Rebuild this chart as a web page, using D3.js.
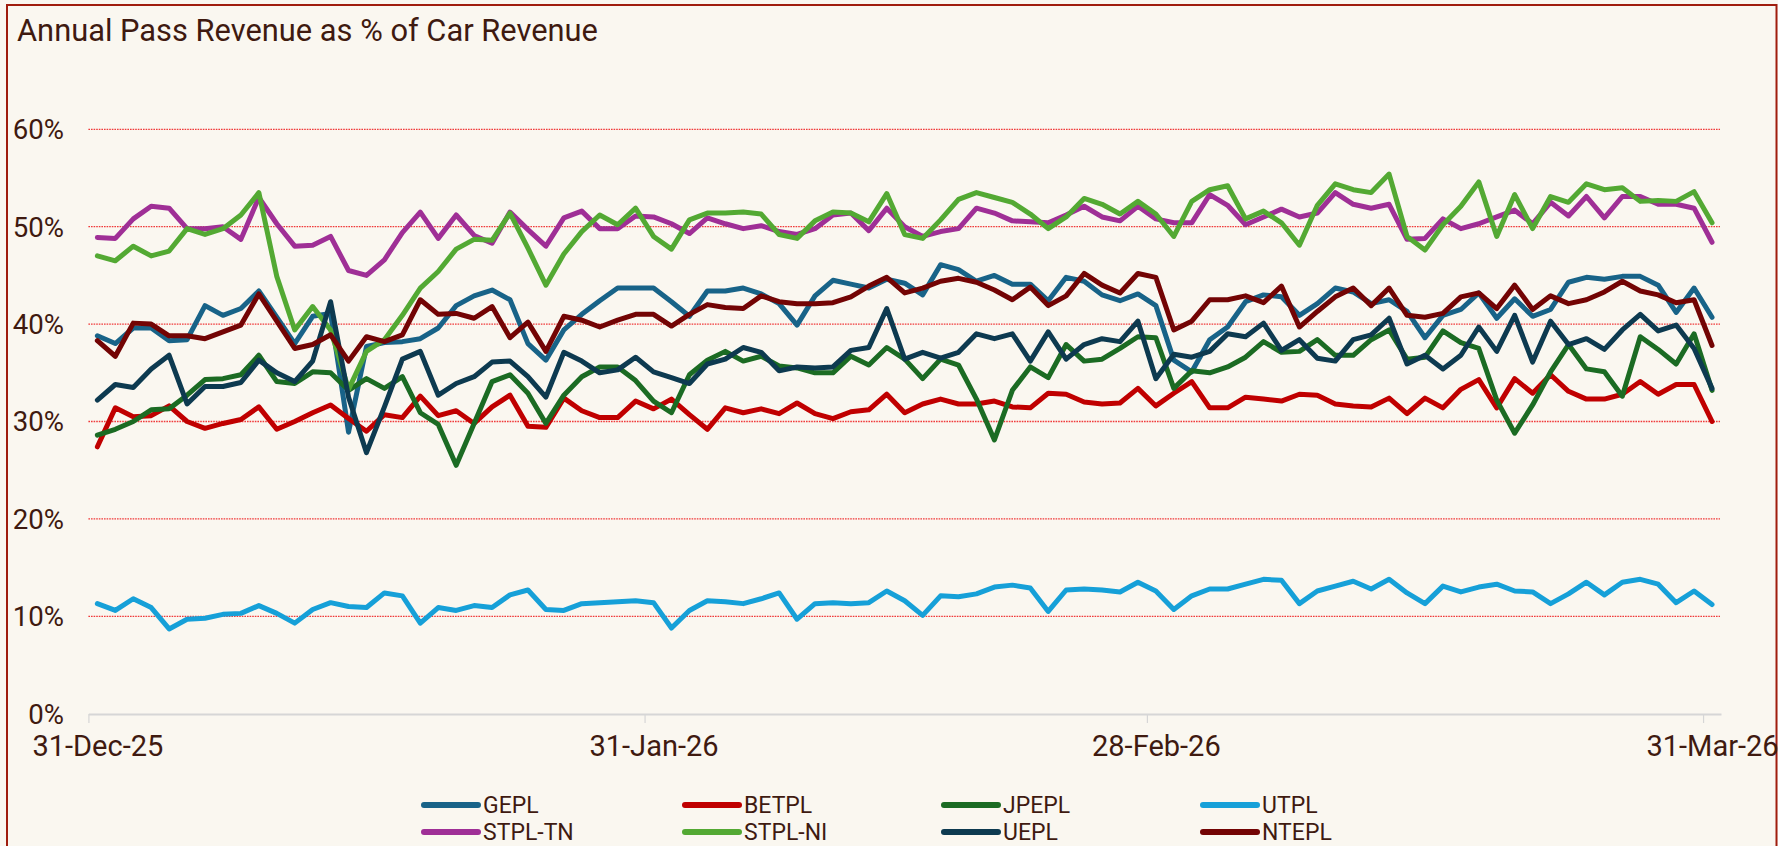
<!DOCTYPE html>
<html><head><meta charset="utf-8">
<script src="https://cdn.jsdelivr.net/npm/d3@7"></script>
<style>html,body{margin:0;padding:0;background:#faf7f0;overflow:hidden}</style>
</head><body><svg id="c" width="1778" height="846"></svg>
<script>
// ---------- data ----------
const titleText = "Annual Pass Revenue as % of Car Revenue";
const seriesNames = ["GEPL","BETPL","JPEPL","UTPL","STPL-TN","STPL-NI","UEPL","NTEPL"];
const seriesColors = ["#186388","#c00000","#1b6b23","#16a0d8","#9f2f96","#53a933","#0d3a50","#730404"];
const startDay = "2025-12-31";
const endDayExclusive = "2026-04-01";
const tickDates = ["2025-12-31","2026-01-31","2026-02-28","2026-03-31"];
const tickLabels = ["31-Dec-25","31-Jan-26","28-Feb-26","31-Mar-26"];
const yTickValues = [0,10,20,30,40,50,60];

const GEPL = [
38.8,38.0,39.6,39.6,38.3,38.4,41.9,40.9,41.6,43.4,
40.7,38.0,40.8,41.1,28.9,37.7,38.1,38.2,38.5,39.6,
41.9,42.9,43.5,42.5,38.0,36.3,39.4,41.0,42.4,43.7,
43.7,43.7,42.3,40.8,43.4,43.4,43.7,43.1,42.1,39.9,
42.9,44.5,44.1,43.7,44.6,44.2,43.0,46.1,45.6,44.4,
45.0,44.1,44.1,42.4,44.8,44.4,43.0,42.4,43.1,41.9,
36.3,35.1,38.4,39.7,42.3,43.0,42.8,40.9,42.1,43.7,
43.3,42.1,42.5,41.3,38.6,40.9,41.5,43.2,40.6,42.6,
40.8,41.5,44.3,44.8,44.6,44.9,44.9,44.0,41.2,43.7,
40.7];
const BETPL = [
27.4,31.4,30.5,30.6,31.6,30.0,29.3,29.8,30.2,31.5,
29.2,30.0,30.9,31.7,30.3,29.0,30.7,30.4,32.6,30.6,
31.1,29.8,31.5,32.7,29.5,29.4,32.4,31.1,30.4,30.4,
32.1,31.3,32.3,30.7,29.2,31.4,30.9,31.3,30.8,31.9,
30.8,30.3,31.0,31.2,32.8,30.9,31.8,32.3,31.8,31.8,
32.1,31.5,31.4,32.9,32.8,32.0,31.8,31.9,33.4,31.6,
32.9,34.1,31.4,31.4,32.5,32.3,32.1,32.8,32.7,31.8,
31.6,31.5,32.4,30.8,32.4,31.4,33.3,34.3,31.4,34.4,
32.9,34.8,33.1,32.3,32.3,32.8,34.1,32.8,33.8,33.8,
30.0];
const JPEPL = [
28.6,29.2,30.0,31.2,31.3,32.7,34.3,34.4,34.8,36.8,
34.1,33.9,35.1,35.0,33.2,34.4,33.4,34.6,30.9,29.7,
25.5,29.8,34.1,34.8,32.9,29.8,32.7,34.6,35.6,35.6,
34.2,32.1,30.9,34.8,36.3,37.2,36.2,36.7,35.7,35.5,
35.0,35.0,36.7,35.8,37.6,36.4,34.4,36.4,35.8,32.3,
28.1,33.2,35.6,34.5,37.9,36.2,36.4,37.5,38.7,38.6,
33.4,35.2,35.0,35.6,36.6,38.2,37.1,37.2,38.4,36.8,
36.8,38.4,39.4,36.4,36.6,39.3,38.1,37.5,32.2,28.8,
31.7,35.1,37.9,35.4,35.1,32.6,38.7,37.4,35.9,39.0,
33.2];
const UTPL = [
11.3,10.6,11.8,10.9,8.7,9.7,9.8,10.2,10.3,11.1,
10.3,9.3,10.7,11.4,11.0,10.9,12.4,12.1,9.3,10.9,
10.6,11.1,10.9,12.2,12.7,10.7,10.6,11.3,11.4,11.5,
11.6,11.4,8.8,10.6,11.6,11.5,11.3,11.8,12.4,9.7,
11.3,11.4,11.3,11.4,12.6,11.6,10.1,12.1,12.0,12.3,
13.0,13.2,12.9,10.5,12.7,12.8,12.7,12.5,13.5,12.6,
10.7,12.1,12.8,12.8,13.3,13.8,13.7,11.3,12.6,13.1,
13.6,12.8,13.8,12.4,11.3,13.1,12.5,13.0,13.3,12.6,
12.5,11.3,12.3,13.5,12.2,13.5,13.8,13.3,11.4,12.6,
11.2];
const STPL_TN = [
48.9,48.8,50.8,52.1,51.9,49.8,49.8,50.0,48.7,53.0,
50.3,48.0,48.1,49.0,45.5,45.0,46.6,49.4,51.5,48.8,
51.2,49.1,48.3,51.5,49.7,48.0,50.9,51.6,49.8,49.8,
51.1,51.0,50.3,49.3,50.9,50.3,49.8,50.1,49.5,49.2,
49.8,51.2,51.4,49.6,51.9,50.0,49.0,49.5,49.8,51.9,
51.4,50.6,50.5,50.4,51.2,52.1,51.0,50.6,52.1,50.8,
50.4,50.4,53.3,52.2,50.2,51.0,51.8,51.0,51.4,53.5,
52.3,51.9,52.3,48.7,48.8,50.8,49.8,50.3,51.0,51.7,
50.3,52.5,51.1,53.1,50.9,53.1,53.1,52.3,52.3,51.9,
48.4];
const STPL_NI = [
47.0,46.5,48.0,47.0,47.5,49.8,49.2,49.8,51.2,53.5,
44.9,39.4,41.8,39.4,33.3,37.2,38.4,40.9,43.7,45.4,
47.7,48.7,48.6,51.4,47.8,44.0,47.2,49.5,51.2,50.2,
51.9,49.0,47.7,50.7,51.4,51.4,51.5,51.3,49.2,48.8,
50.6,51.5,51.4,50.5,53.4,49.2,48.8,50.7,52.8,53.5,
53.0,52.5,51.3,49.8,51.0,52.9,52.3,51.3,52.6,51.3,
49.0,52.6,53.8,54.2,50.8,51.6,50.4,48.1,52.2,54.4,
53.8,53.5,55.4,49.0,47.6,50.2,52.1,54.6,49.0,53.3,
49.8,53.1,52.5,54.4,53.8,54.0,52.6,52.7,52.6,53.6,
50.4];
const UEPL = [
32.2,33.8,33.5,35.4,36.8,31.8,33.6,33.6,34.0,36.3,
35.0,34.1,36.2,42.3,32.5,26.8,31.5,36.4,37.2,32.7,
33.9,34.6,36.1,36.2,34.6,32.5,37.1,36.2,35.0,35.3,
36.6,35.1,34.5,33.9,35.9,36.4,37.6,37.1,35.2,35.6,
35.5,35.6,37.3,37.6,41.6,36.4,37.1,36.5,37.1,39.0,
38.5,39.0,36.2,39.2,36.4,37.9,38.5,38.2,40.3,34.4,
36.9,36.6,37.2,39.0,38.7,40.1,37.3,38.4,36.5,36.2,
38.4,38.9,40.6,35.9,36.8,35.4,36.8,39.7,37.2,40.9,
36.1,40.3,37.9,38.5,37.4,39.4,41.0,39.3,39.9,37.5,
33.4];
const NTEPL = [
38.3,36.7,40.1,40.0,38.8,38.8,38.5,39.2,39.9,43.1,
40.3,37.5,37.9,38.9,36.2,38.7,38.2,38.9,42.5,41.0,
41.1,40.6,41.8,38.6,40.2,37.2,40.8,40.4,39.7,40.4,
41.0,41.0,39.8,41.0,42.0,41.7,41.6,42.9,42.3,42.1,
42.1,42.2,42.8,43.9,44.8,43.2,43.7,44.4,44.7,44.3,
43.5,42.5,43.8,41.9,42.9,45.2,44.0,43.2,45.2,44.8,
39.4,40.3,42.5,42.5,42.9,42.2,43.9,39.7,41.3,42.8,
43.7,41.9,43.7,40.9,40.7,41.1,42.8,43.2,41.6,44.0,
41.5,42.9,42.1,42.5,43.3,44.4,43.4,43.0,42.2,42.5,
37.8];
const seriesValues = [GEPL,BETPL,JPEPL,UTPL,STPL_TN,STPL_NI,UEPL,NTEPL];

// ---------- drawing ----------
const W = 1778, H = 846;
const TEXT = "#3f1a10";
const FONT = "Roboto, 'Liberation Sans', Arial, sans-serif";
const parse = d3.utcParse("%Y-%m-%d");
const dates = d3.utcDay.range(parse(startDay), parse(endDayExclusive));

const svg = d3.select("#c").attr("font-family", FONT);
svg.append("rect").attr("width", W).attr("height", H).attr("fill", "#faf7f0");
svg.append("rect").attr("x", 7).attr("y", 5).attr("width", 1769.5).attr("height", 900)
  .attr("fill", "none").attr("stroke", "#a01d0e").attr("stroke-width", 2);

const x = d3.scaleUtc().domain([parse(startDay), parse(endDayExclusive)]).range([88.4, 1721]);
const y = d3.scaleLinear().domain([0, 60]).range([713.7, 129.3]);
const mid = d => x(d3.utcHour.offset(d, 12));
const halfDay = mid(dates[0]) - x(dates[0]);

function fitFont(sel, target) {
  const w = sel.node().getComputedTextLength();
  const fs = parseFloat(sel.attr("font-size"));
  return fs * target / w;
}

// title
const title = svg.append("text").attr("x", 17).attr("y", 41).attr("fill", TEXT)
  .attr("font-size", 30).text(titleText);
title.attr("font-size", fitFont(title, 581));

// gridlines
svg.append("g").selectAll("line").data(yTickValues.filter(v => v > 0)).join("line")
  .attr("x1", 88.4).attr("x2", 1720).attr("y1", d => y(d)).attr("y2", d => y(d))
  .attr("stroke", "#f03a3a").attr("stroke-width", 1.3).attr("stroke-dasharray", "1.6,1");

// y labels
const yl = svg.append("g").selectAll("text").data(yTickValues).join("text")
  .attr("x", 64).attr("y", d => y(d)).attr("dy", "0.36em").attr("text-anchor", "end")
  .attr("fill", TEXT).attr("font-size", 26).text(d => d + "%");
const yfs = fitFont(yl.filter(d => d === 60), 51.3);
yl.attr("font-size", yfs);

// x axis
const xAxis = d3.axisBottom(x).tickValues(tickDates.map(parse)).tickSize(9).tickSizeOuter(0)
  .tickFormat((d, i) => tickLabels[i]);
const gx = svg.append("g").attr("transform", "translate(0,714)").call(xAxis);
gx.select(".domain").attr("stroke", "#d6d6d6").attr("stroke-width", 2.2);
gx.selectAll(".tick line").attr("stroke", "#d6d6d6").attr("stroke-width", 1.2);
const xt = gx.selectAll(".tick text").attr("fill", TEXT).attr("font-family", FONT)
  .attr("font-size", 26).attr("x", halfDay).attr("y", 42).attr("dy", 0);
const xfs = fitFont(xt.filter((d, i) => i === 0), 131);
xt.attr("font-size", xfs);

// lines
const line = d3.line().x((d, i) => mid(dates[i])).y(d => y(d));
svg.append("g").selectAll("path").data(seriesValues).join("path")
  .attr("d", d => line(d)).attr("fill", "none")
  .attr("stroke", (d, i) => seriesColors[i]).attr("stroke-width", 5)
  .attr("stroke-linejoin", "round").attr("stroke-linecap", "round");

// legend
const legX = [423, 684, 943, 1202];
const legY = [805, 832];
const lg = svg.append("g").selectAll("g").data(seriesNames).join("g")
  .attr("transform", (d, i) => `translate(${legX[i % 4]},${legY[Math.floor(i / 4)]})`);
lg.append("line").attr("x1", 1).attr("x2", 55).attr("y1", 0).attr("y2", 0)
  .attr("stroke", (d, i) => seriesColors[i]).attr("stroke-width", 6).attr("stroke-linecap", "round");
lg.append("text").attr("x", 60).attr("y", 0).attr("dy", "0.36em").attr("fill", TEXT)
  .attr("font-size", 23).text(d => d);
</script></body></html>
